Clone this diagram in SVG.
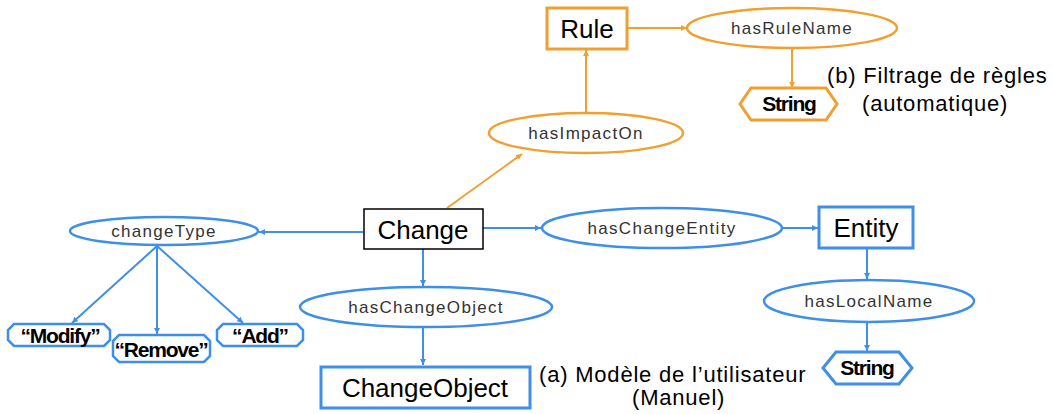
<svg xmlns="http://www.w3.org/2000/svg" width="1052" height="414" viewBox="0 0 1052 414">
<style>
.bg{fill:#fff}
.ob{fill:#fff;stroke:#f0a030;stroke-width:3}
.oe{fill:#fff;stroke:#f0a030;stroke-width:2.5}
.bb{fill:#fff;stroke:#3f8fe6;stroke-width:3}
.be{fill:#fff;stroke:#3f8fe6;stroke-width:2.5}
.cb{fill:#fff;stroke:#000;stroke-width:1.5}
.nt{font-family:"Liberation Sans",Arial,sans-serif;font-size:26px;fill:#000;text-anchor:middle}
.et{font-family:"Liberation Sans",Arial,sans-serif;font-size:17px;fill:#333;text-anchor:middle;letter-spacing:1.3px}
.lt{font-family:"Liberation Sans",Arial,sans-serif;font-size:21px;font-weight:bold;fill:#000;text-anchor:middle;letter-spacing:-1.2px}
.cap{font-family:"Liberation Sans",Arial,sans-serif;font-size:22px;fill:#000;letter-spacing:0.8px}
.oc{stroke:#f0a030;stroke-width:2;fill:none}
.bc{stroke:#3f8fe6;stroke-width:2;fill:none}
</style>
<defs>
<marker id="ao" viewBox="0 0 10 10" refX="10" refY="5" markerWidth="6" markerHeight="6" orient="auto" markerUnits="userSpaceOnUse"><path d="M0,0L10,5L0,10z" fill="#f0a030"/></marker>
<marker id="ab" viewBox="0 0 10 10" refX="10" refY="5" markerWidth="6" markerHeight="6" orient="auto" markerUnits="userSpaceOnUse"><path d="M0,0L10,5L0,10z" fill="#3f8fe6"/></marker>
</defs>
<rect class="bg" x="0" y="0" width="1052" height="414"/>
<g id="connectors">
<line class="oc" x1="628" y1="28" x2="687" y2="28" marker-end="url(#ao)"/>
<line class="oc" x1="792" y1="49" x2="792" y2="88" marker-end="url(#ao)"/>
<line class="oc" x1="586" y1="113" x2="586" y2="50" marker-end="url(#ao)"/>
<line class="oc" x1="447" y1="208" x2="522" y2="154" marker-end="url(#ao)"/>
<line class="bc" x1="363" y1="232" x2="259" y2="232" marker-end="url(#ab)"/>
<line class="bc" x1="157" y1="246" x2="72" y2="323" marker-end="url(#ab)"/>
<line class="bc" x1="157" y1="246" x2="157" y2="334" marker-end="url(#ab)"/>
<line class="bc" x1="157" y1="246" x2="243" y2="323" marker-end="url(#ab)"/>
<line class="bc" x1="423" y1="249" x2="423" y2="286" marker-end="url(#ab)"/>
<line class="bc" x1="423" y1="328" x2="423" y2="365" marker-end="url(#ab)"/>
<line class="bc" x1="483" y1="228" x2="541" y2="228" marker-end="url(#ab)"/>
<line class="bc" x1="782" y1="228" x2="818" y2="228" marker-end="url(#ab)"/>
<line class="bc" x1="867" y1="248" x2="867" y2="279" marker-end="url(#ab)"/>
<line class="bc" x1="867" y1="322" x2="867" y2="351" marker-end="url(#ab)"/>
</g>
<g id="rule"><rect class="ob" x="547" y="8" width="80" height="41"/><text class="nt" x="587" y="38">Rule</text></g>
<g id="hasRuleName"><ellipse class="oe" cx="792" cy="28" rx="105" ry="20"/><text class="et" x="792" y="34">hasRuleName</text></g>
<g id="stringRule"><polygon class="ob" points="740,104 751,88 826,88 837,104 826,120 751,120"/><text class="lt" x="789" y="111">String</text></g>
<g id="hasImpactOn"><ellipse class="oe" cx="586" cy="133" rx="97" ry="20"/><text class="et" x="586" y="139">hasImpactOn</text></g>
<g id="change"><rect class="cb" x="364" y="209" width="119" height="40"/><text class="nt" x="423" y="239" font-size="28">Change</text></g>
<g id="changeType"><ellipse class="be" cx="164" cy="231" rx="94" ry="14"/><text class="et" x="164" y="237">changeType</text></g>
<g id="modify"><polygon class="be" points="14,324 104,324 110,330 110,340 104,346 14,346 8,340 8,330"/><text class="lt" x="60" y="343">“Modify”</text></g>
<g id="remove"><polygon class="be" points="119,335 204,335 210,341 210,356 204,362 119,362 113,356 113,341"/><text class="lt" x="161" y="357">“Remove”</text></g>
<g id="add"><polygon class="be" points="223,324 297,324 303,330 303,340 297,346 223,346 217,340 217,330"/><text class="lt" x="260" y="343">“Add”</text></g>
<g id="hasChangeObject"><ellipse class="be" cx="426" cy="307" rx="126" ry="20"/><text class="et" x="426" y="313">hasChangeObject</text></g>
<g id="changeObject"><rect class="bb" x="321" y="367" width="209" height="41"/><text class="nt" x="425" y="397" font-size="27.5">ChangeObject</text></g>
<g id="hasChangeEntity"><ellipse class="be" cx="662" cy="228" rx="120" ry="20"/><text class="et" x="662" y="234">hasChangeEntity</text></g>
<g id="entity"><rect class="bb" x="819" y="207" width="94" height="41"/><text class="nt" x="866" y="237">Entity</text></g>
<g id="hasLocalName"><ellipse class="be" cx="869" cy="301" rx="105" ry="21"/><text class="et" x="869" y="307">hasLocalName</text></g>
<g id="stringEntity"><polygon class="bb" points="823,368 836,352 899,352 912,368 899,384 836,384"/><text class="lt" x="867" y="375">String</text></g>
<g id="captions">
<text class="cap" x="827" y="83">(b) Filtrage de règles</text>
<text class="cap" x="862" y="111" letter-spacing="1.2">(automatique)</text>
<text class="cap" x="539" y="382">(a)  Modèle de l’utilisateur</text>
<text class="cap" x="632" y="405">(Manuel)</text>
</g>
</svg>
